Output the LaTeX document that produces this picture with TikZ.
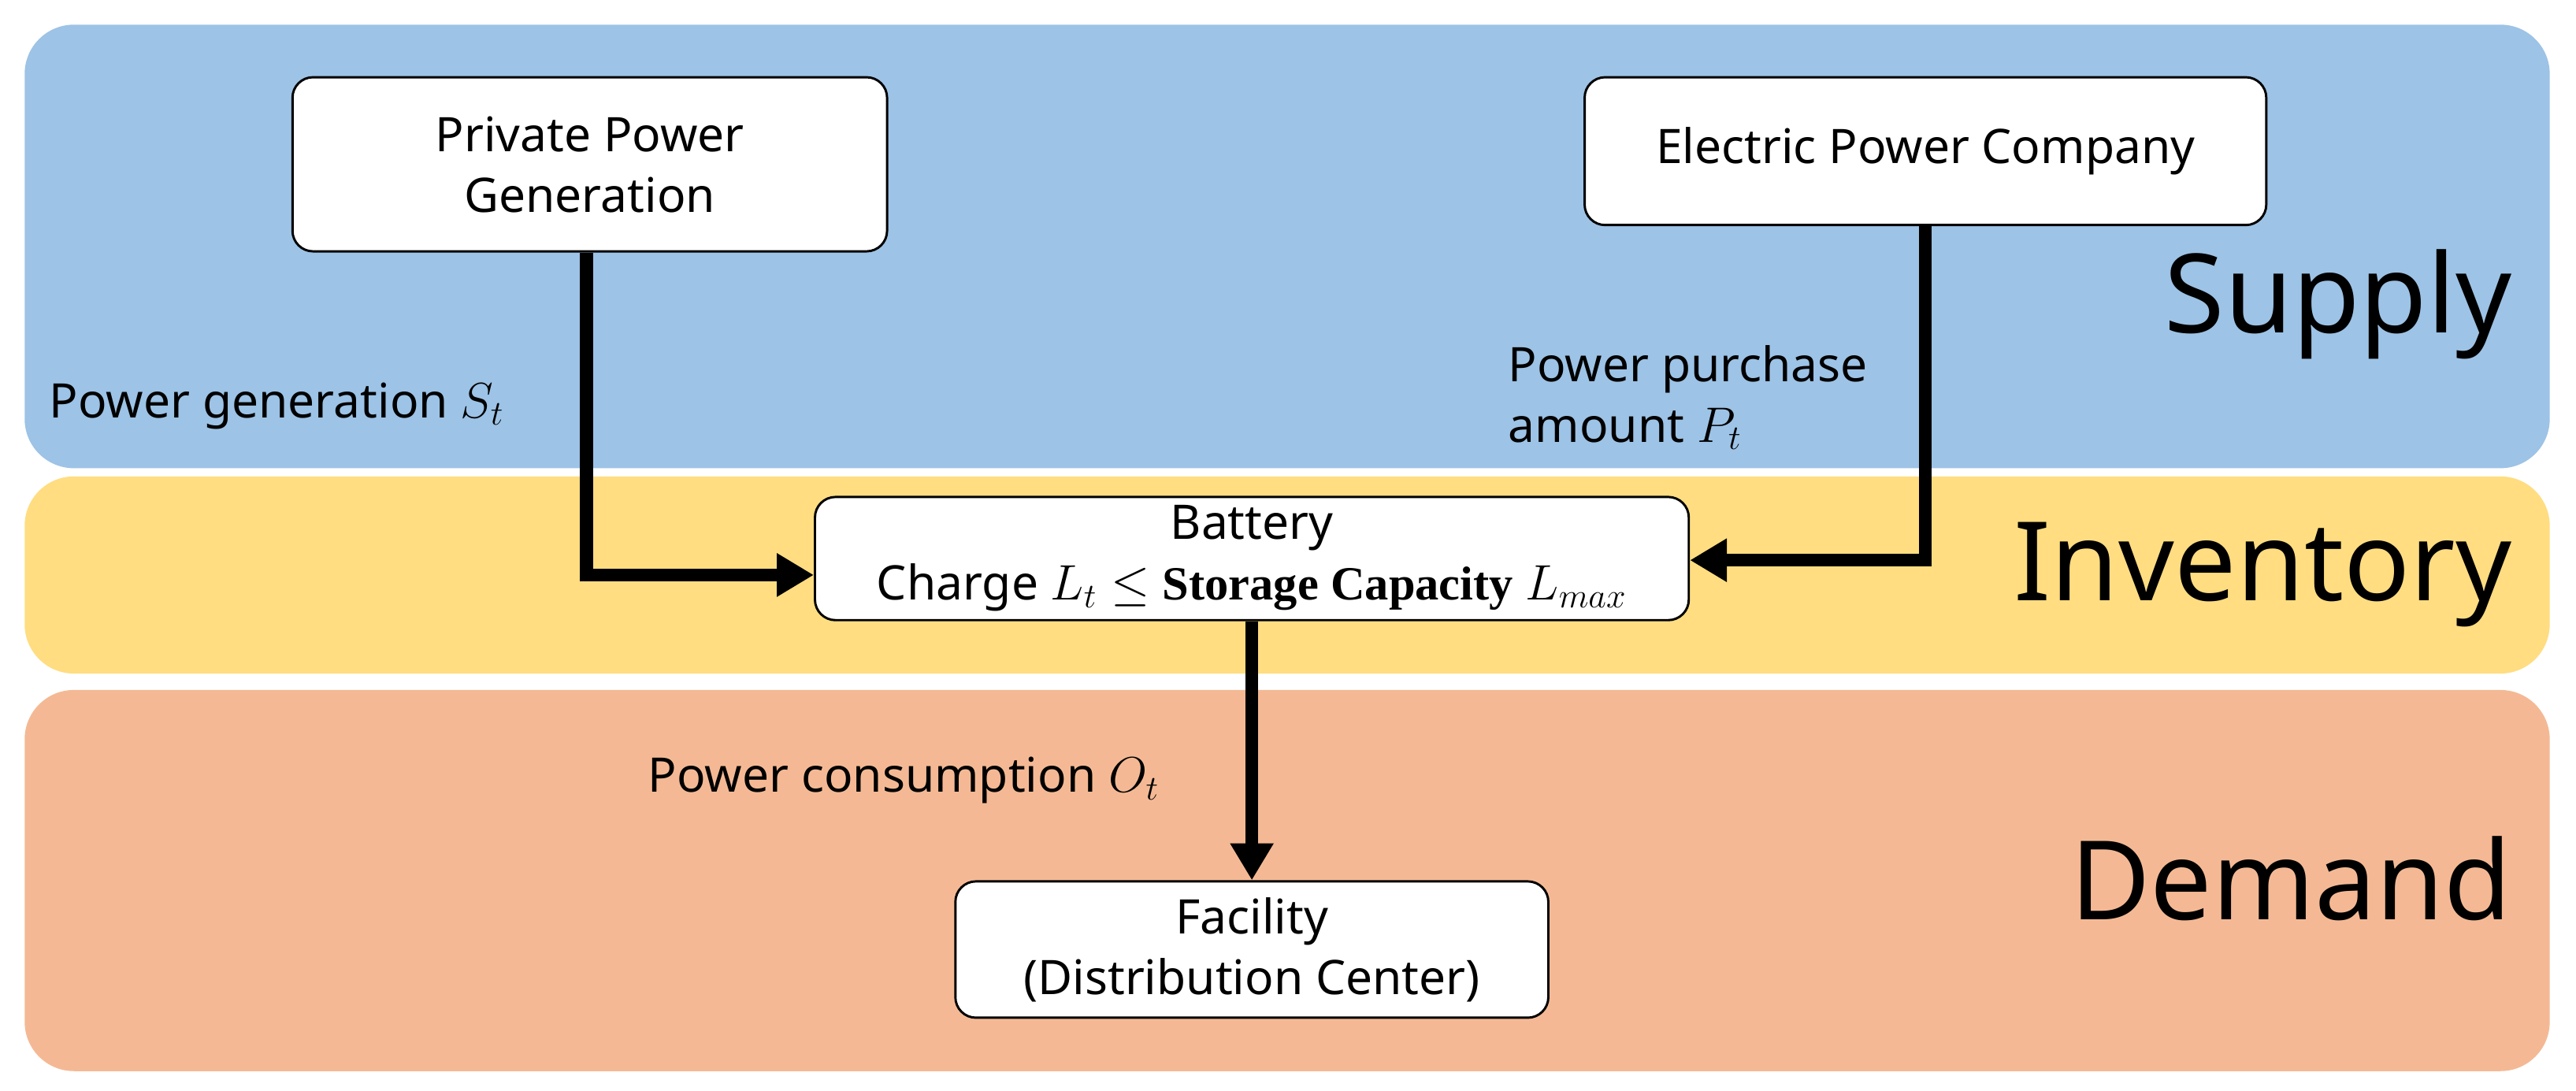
\documentclass[tikz,border=0pt]{standalone}
\usepackage{fontspec}
\setmainfont{Noto Sans}
\newfontfamily\capfont{Liberation Serif}
\usetikzlibrary{arrows.meta}
\definecolor{csupply}{HTML}{9DC3E6}
\definecolor{cinventory}{HTML}{FFDD80}
\definecolor{cdemand}{HTML}{F4B994}

\begin{document}
\begin{tikzpicture}[x=0.02cm,y=-0.02cm,
  band/.style={rounded corners=0.6cm,draw=none},
  box node/.style={draw,thick,rounded corners=0.25cm,fill=white,align=center,font=\fontsize{16.5}{21}\selectfont},
  flow/.style={line width=4.5pt,-{Triangle[length=0.45cm,width=0.5cm]}},
  lab/.style={font=\fontsize{16.5}{21}\selectfont,align=left},
  zone/.style={font=\fontsize{38}{42}\selectfont,anchor=east}]
  \useasboundingbox (0,0) rectangle (1568,664);
  \fill[band,csupply] (15,15) rectangle (1552,285);
  \fill[band,cinventory] (15,290) rectangle (1552,410);
  \fill[band,cdemand] (15,420) rectangle (1552,652);

  \node[box node,minimum width=7.24cm,minimum height=2.12cm] (gen) at (359,100) {Private Power\\Generation};
  \node[box node,minimum width=8.3cm,minimum height=1.8cm] (epc) at (1172,92) {Electric Power Company};
  \node[box node,minimum width=10.64cm,minimum height=1.5cm,inner sep=1pt] (bat) at (762,340) {Battery\\Charge $L_t\leq$ {\capfont\bfseries Storage Capacity} $L_{max}$};
  \node[box node,minimum width=7.22cm,minimum height=1.66cm,inner sep=1pt] (fac) at (762,578) {Facility\\(Distribution Center)};

  \coordinate (c1) at (357,350);
  \coordinate (c2) at (1172,341);
  \draw[flow] (gen.south -| c1) -- (c1) -- (c1 -| bat.west);
  \draw[flow] (epc.south -| c2) -- (c2) -- (c2 -| bat.east);
  \draw[flow] (bat.south) -- (fac.north);

  \node[lab,anchor=west] (lgen) at (24,247) {Power generation $S_t$};
  \node[lab,anchor=west] (lepc) at (912,242) {Power purchase\\amount $P_t$};
  \node[lab,anchor=east] (lcon) at (712,475) {Power consumption $O_t$};

  \node[zone] (zs) at (1535,185) {Supply};
  \node[zone] (zi) at (1535,350) {Inventory};
  \node[zone] (zd) at (1535,535) {Demand};
\end{tikzpicture}
\end{document}
